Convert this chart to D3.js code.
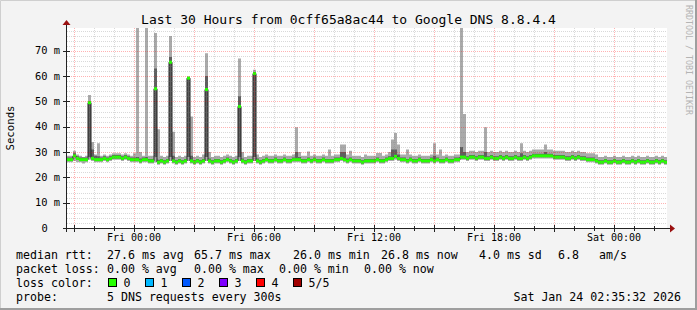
<!DOCTYPE html>
<html>
<head>
<meta charset="utf-8">
<script src="https://cdn.jsdelivr.net/npm/d3@7"></script>
<style>
  body { margin: 0; background: #f3f3f3; }
  svg { display: block; }
  text { font-family: "DejaVu Sans Mono", monospace; fill: #000; white-space: pre; }
</style>
</head>
<body>
<svg id="chart" width="697" height="310"></svg>
<script>
// 200 bins of 9 minutes each, starting Thu 20:39 (UTC)
const startTime = Date.UTC(2026, 0, 22, 20, 39);
const binMinutes = 9;

// median rtt per bin (ms)
const med = [
  27,27,28.5,27.5,27,27,27,49.5,27.5,27,
  27,27,27.5,27,27.5,28,28,28,27.5,28,
  27.5,27,27,27,26.5,27,27,26.5,26.5,55,
  26,26.5,26,26.5,65.5,26.5,26,26.5,26,26.5,
  59.2,26.5,26,26.5,26,26.5,54.7,26.5,26,26.5,
  26.5,26,26.5,27,26.5,26,26.5,48,26.5,26,
  26.5,26.5,61,26.5,26,26.5,27,26.5,26.5,27,
  26.5,26.5,27,26.5,26.5,27,27,27,26.5,26.5,
  27,26.5,27,26.5,26.5,27,26.5,26.5,26.5,27,
  27,27.5,27,26.5,27,26.5,26.5,26.5,26,26.5,
  26.5,26.5,26.5,27,26.5,26.5,27,27.5,27.5,28.3,
  27.5,27,27,26.5,27,26.5,26.5,27,26.5,26.5,
  26.5,27,26.5,27,26.5,26.5,27,26.5,26.5,27,
  27,28,28,27.5,28,28,27.5,28,28,27.5,
  27.5,28,27.5,27.5,28,27.5,28,27.5,27.5,28,
  27.5,27.5,28,27.5,28,28.5,28.5,28.5,28.5,28.5,
  28.5,28.5,28,28,28,28,27.5,27.5,28,27.5,
  28,27.5,27.5,27,27,27,26.5,26,26,26.5,
  26,26,26.5,26,26,26.5,26,26,26.5,26,
  26.5,26,26,26.5,26,26,26.5,26,26.5,26
];
// lowest ping per bin
const lo = [
  26,26,26.5,26,26,25.5,26,27,26.5,26,
  26,26,26.5,26,26.5,27,27,27,26.5,27,
  26.5,26,26,26,25.5,26,26,25.5,25.5,26,
  25,25.5,25,25.5,26.5,25.5,25,25.5,25,25.5,
  26.5,25.5,25,25.5,25,25.5,26.5,25.5,25,25.5,
  25.5,25,25.5,26,25.5,25,25.5,26.5,25.5,25,
  25.5,25.5,26.5,25.5,25,25.5,26,25.5,25.5,26,
  25.5,25.5,26,25.5,25.5,26,26,26,25.5,25.5,
  26,25.5,26,25.5,25.5,26,25.5,25.5,25.5,26,
  26,26.5,26,25.5,26,25.5,25.5,25.5,25,25.5,
  25.5,25.5,25.5,26,25.5,25.5,26,26.5,26.5,27,
  26.5,26,26,25.5,26,25.5,25.5,26,25.5,25.5,
  25.5,26,25.5,26,25.5,25.5,26,25.5,25.5,26,
  26,27,27,26.5,27,27,26.5,27,27,26.5,
  26.5,27,26.5,26.5,27,26.5,27,26.5,26.5,27,
  26.5,26.5,27,26.5,27,27.5,27.5,27.5,27.5,27.5,
  27.5,27.5,27,27,27,27,26.5,26.5,27,26.5,
  27,26.5,26.5,26,26,26,25.5,25,25,25.5,
  25,25,25.5,25,25,25.5,25,25,25.5,25,
  25.5,25,25,25.5,25,25,25.5,25,25.5,25
];
// second ping per bin (dark smoke lower edge)
const iLo = [
  26.5,26.5,28,27,26.5,26.5,26.5,28,27,26.5,
  26.5,26.5,27,26.5,27,27.5,27.5,27.5,27,27.5,
  27,26.5,26.5,26.5,26,26.5,26.5,26,26,28,
  25.5,26,25.5,26,28,26,25.5,26,25.5,26,
  28,26,25.5,26,25.5,26,28,26,25.5,26,
  26,25.5,26,26.5,26,25.5,26,28,26,25.5,
  26,26,28,26,25.5,26,26.5,26,26,26.5,
  26,26,26.5,26,26,26.5,26.5,26.5,26,26,
  26.5,26,26.5,26,26,26.5,26,26,26,26.5,
  26.5,27,26.5,26,26.5,26,26,26,25.5,26,
  26,26,26,26.5,26,26,26.5,27,27,27.8,
  27,26.5,26.5,26,26.5,26,26,26.5,26,26,
  26,26.5,26,26.5,26,26,26.5,26,26,26.5,
  26.5,27.5,27.5,27,27.5,27.5,27,27.5,27.5,27,
  27,27.5,27,27,27.5,27,27.5,27,27,27.5,
  27,27,27.5,27,27.5,28,28,28,28,28,
  28,28,27.5,27.5,27.5,27.5,27,27,27.5,27,
  27.5,27,27,26.5,26.5,26.5,26,25.5,25.5,26,
  25.5,25.5,26,25.5,25.5,26,25.5,25.5,26,25.5,
  26,25.5,25.5,26,25.5,25.5,26,25.5,26,25.5
];
// fourth ping per bin (dark smoke upper edge)
const iHi = [
  27.8,27.8,29.5,28.3,27.8,27.8,27.8,50,31,28.5,
  28.3,27.8,28.3,27.8,28.3,28.8,28.8,28.8,28.3,28.8,
  28.3,27.8,27.8,28,27.5,27.8,28,27.3,27.3,63,
  27,27.3,26.8,27.3,67.5,28.5,26.8,27.3,26.8,27.3,
  59.5,28.5,26.8,27.3,26.8,27.3,60,27.5,26.8,27.3,
  27.3,26.8,27.3,27.8,27.3,26.8,27.3,52,27.5,26.8,
  27.3,27.3,61.5,27.5,26.8,27.3,27.8,27.3,27.3,27.8,
  27.3,27.3,27.8,27.3,27.3,27.8,30,28,27.3,27.3,
  27.8,27.3,27.8,27.3,27.3,27.8,27.3,27.3,27.3,27.8,
  27.8,30,30,27.5,27.8,27.3,27.3,27.3,26.8,27.3,
  27.3,27.3,27.3,27.8,27.3,27.3,27.8,28.3,31,31,
  29,27.8,27.8,27.3,27.8,27.3,27.3,27.8,27.3,27.3,
  27.3,27.8,28.5,27.8,27.3,27.3,27.8,27.3,27.3,27.8,
  27.8,32,30,28.3,28.8,28.8,28.3,28.8,28.8,30,
  28.3,28.8,28.3,28.3,28.8,28.3,28.8,28.3,28.3,28.8,
  28.3,29.5,28.8,28.3,28.8,29.3,29.3,29.3,29.3,30,
  29.3,29.3,28.8,28.8,28.8,28.8,28.3,28.3,28.8,28.3,
  28.8,28.3,28.3,27.8,27.8,27.8,27.3,26.8,26.8,27.3,
  26.8,26.8,27.3,26.8,26.8,27.3,26.8,26.8,27.3,26.8,
  27.3,26.8,26.8,27.3,26.8,26.8,27.3,26.8,27.3,26.8
];
// highest ping per bin
const hi = [
  28.5,28.5,30.5,29,28.5,28,28.5,52.5,34,29,
  33.5,28.5,29,28.5,29,29.5,29.5,29.5,29,29.5,
  29,28.5,29.5,85,30,28.5,85,28.5,28.5,77,
  39,28.5,28,28.5,75.8,38,28,28.5,28,28.5,
  59.8,44,28,28.5,28,29,69,30,28,28.5,
  28.5,28,28.5,29,28.5,28,28.5,67,30,28,
  28.5,28.5,62.5,29,28,28.5,29,28.5,28.5,29,
  28.5,28.5,29,28.5,28.5,29,39.8,30,28.5,28.5,
  30.2,28.5,29,28.5,28.5,29,28.5,31,28.5,29,
  29,33,33,29,30.5,28.5,28.5,28.5,28,29,
  28.5,28.5,28.5,29.6,29.6,28.5,29,30,35,37.5,
  33,29,29,31,29,28.5,28.5,29,28.5,28.5,
  28.5,29,33.5,29,31,28.5,29,28.5,28.5,29,
  29,85,45,30,30.5,30.5,30,30.5,30.5,39.8,
  30,30.5,30,30,30.5,30,30.5,30,30,30.5,
  30,33.5,30.5,30,30.5,31,31,31,31,33,
  31,31,30.5,30.5,30.5,30.5,30,30,30.5,30,
  30.5,30,30,29.5,29.5,29.5,29,28,28,28.5,
  28,28,28.5,28,28,28.5,28,28,28.5,28,
  28.5,28,28,28.5,28,28,28.5,28,28.5,28
];

const yTicks = [0, 10, 20, 30, 40, 50, 60, 70];
const lossColors = [
  ["0", "#26ff00"], ["1", "#00b8ff"], ["2", "#0059ff"],
  ["3", "#7e00ff"], ["4", "#ff0000"], ["5/5", "#a00000"]
];
const rttStats = [["median rtt:", 16], ["27.6 ms avg", 107], ["65.7 ms max", 194], ["26.0 ms min", 293],
  ["26.8 ms now", 381], ["4.0 ms sd", 479], ["6.8", 558], ["am/s", 599]];
const lossStats = [["packet loss:", 16], ["0.00 % avg", 107], ["0.00 % max", 194],
  ["0.00 % min", 279], ["0.00 % now", 364]];
const lossBoxX = [108, 145, 182, 219, 256, 293];
const title = "Last 30 Hours from 0cff65a8ac44 to Google DNS 8.8.4.4";

const W = 697, H = 310;
const plot = { left: 67, right: 667, top: 28, bottom: 228 };

const svg = d3.select('#chart');

// canvas and frame
svg.append('rect').attr('width', W).attr('height', H).attr('fill', '#f3f3f3');
svg.append('path').attr('d', `M0.5,${H}V0.5H${W}`).attr('stroke', '#cfcfcf').attr('fill', 'none');
svg.append('path').attr('d', `M0,${H - 1}H${W - 1}V0`).attr('stroke', '#9e9e9e').attr('stroke-width', 2).attr('fill', 'none');

const times = d3.range(med.length + 1).map((i) => new Date(startTime + i * binMinutes * 60000));
const x = d3.scaleTime().domain([times[0], times[times.length - 1]]).range([plot.left, plot.right]);
const y = d3.scaleLinear().domain([0, 79]).range([plot.bottom, plot.top]);

svg.append('rect')
  .attr('x', plot.left).attr('y', plot.top)
  .attr('width', plot.right - plot.left).attr('height', plot.bottom - plot.top)
  .attr('fill', '#fff');

svg.append('clipPath').attr('id', 'clip')
  .append('rect')
  .attr('x', plot.left).attr('y', plot.top)
  .attr('width', plot.right - plot.left).attr('height', plot.bottom - plot.top);

const g = svg.append('g').attr('clip-path', 'url(#clip)');

// repeat last value so the step reaches the right edge
const ext = (arr) => arr.concat([arr[arr.length - 1]]);
const idx = d3.range(med.length + 1);

const smoke = (a, b) => d3.area()
  .curve(d3.curveStepAfter)
  .x((i) => x(times[i]))
  .y0((i) => y(a[i]))
  .y1((i) => y(b[i]));

g.append('path').attr('d', smoke(ext(lo), ext(hi))(idx)).attr('fill', '#aaaaaa');
g.append('path').attr('d', smoke(ext(iLo), ext(iHi))(idx)).attr('fill', '#5f5f5f');

const medExt = ext(med);
const medLine = d3.line()
  .curve(d3.curveStepAfter)
  .x((i) => x(times[i]))
  .y((i) => y(medExt[i]));
g.append('path').attr('d', medLine(idx)).attr('fill', 'none').attr('stroke', '#202020').attr('stroke-width', 1);

// loss colored median bands (no loss -> green)
g.selectAll('.medband')
  .data(med)
  .join('rect')
  .attr('class', 'medband')
  .attr('x', (d, i) => x(times[i]))
  .attr('width', (d, i) => x(times[i + 1]) - x(times[i]))
  .attr('y', (d) => y(d) - 1.5)
  .attr('height', 3)
  .attr('fill', lossColors[0][1]);

// grid on top
const grid = svg.append('g');
const hourTicks = d3.utcHour.every(1).range(times[0], times[times.length - 1]);
hourTicks.forEach((t) => {
  const major = t.getUTCHours() % 3 === 0;
  const xp = Math.round(x(t)) + 0.5;
  grid.append('line')
    .attr('x1', xp).attr('x2', xp).attr('y1', plot.top).attr('y2', plot.bottom)
    .attr('stroke', major ? 'rgba(255,0,0,0.3)' : 'rgba(128,128,128,0.3)')
    .attr('stroke-dasharray', '1,1');
});
d3.range(2, 79, 2).forEach((v) => {
  const major = v % 10 === 0;
  const yp = Math.round(y(v)) + 0.5;
  grid.append('line')
    .attr('x1', plot.left).attr('x2', plot.right).attr('y1', yp).attr('y2', yp)
    .attr('stroke', major ? 'rgba(255,0,0,0.3)' : 'rgba(128,128,128,0.3)')
    .attr('stroke-dasharray', '1,1');
});

// axes
const axis = svg.append('g');
axis.append('line').attr('x1', 63).attr('x2', 671).attr('y1', 228.5).attr('y2', 228.5).attr('stroke', '#222');
axis.append('line').attr('x1', 66.5).attr('x2', 66.5).attr('y1', 232).attr('y2', 24).attr('stroke', '#222');
axis.append('path').attr('d', 'M670,224.5L675,228.5L670,232.5Z').attr('fill', '#9a1010');
axis.append('path').attr('d', 'M62.5,25L66.5,20L70.5,25Z').attr('fill', '#9a1010');
yTicks.forEach((v) => {
  const yp = Math.round(y(v)) + 0.5;
  axis.append('line').attr('x1', 63).attr('x2', 70).attr('y1', yp).attr('y2', yp).attr('stroke', '#222');
});
hourTicks.forEach((t) => {
  const xp = Math.round(x(t)) + 0.5;
  const major = t.getUTCHours() % 3 === 0;
  axis.append('line').attr('x1', xp).attr('x2', xp).attr('y1', major ? 225 : 226).attr('y2', major ? 232 : 231).attr('stroke', '#222');
});

// y labels
yTicks.forEach((v) => {
  svg.append('text')
    .attr('x', v === 0 ? 47.8 : 60).attr('y', y(v) + 3.5)
    .attr('text-anchor', 'end').attr('font-size', '10.4px')
    .text(v === 0 ? '0' : `${v} m`);
});

// x labels every 6 hours
const fmt = d3.utcFormat('%a %H:%M');
d3.utcHour.every(6).range(times[0], times[times.length - 1]).forEach((t) => {
  svg.append('text')
    .attr('x', x(t)).attr('y', 241)
    .attr('text-anchor', 'middle').attr('font-size', '10px')
    .text(fmt(t));
});

svg.append('text')
  .attr('transform', 'translate(14,128) rotate(-90)')
  .attr('text-anchor', 'middle').attr('font-size', '10.7px')
  .text('Seconds');

svg.append('text')
  .attr('x', 348.5).attr('y', 23.5)
  .attr('text-anchor', 'middle').attr('font-size', '13px')
  .text(title);

svg.append('text')
  .attr('transform', 'translate(686,5) rotate(90)')
  .attr('font-size', '8.3px').style('fill', '#b4b4b4')
  .text('RRDTOOL / TOBI OETIKER');

// legend
const legend = svg.append('g').attr('font-size', '11.6px');
rttStats.forEach(([s, xp]) => legend.append('text').attr('x', xp).attr('y', 258.5).text(s));
lossStats.forEach(([s, xp]) => legend.append('text').attr('x', xp).attr('y', 272.5).text(s));
legend.append('text').attr('x', 16).attr('y', 286.5).text('loss color:');
lossColors.forEach(([label, color], i) => {
  legend.append('rect')
    .attr('x', lossBoxX[i] + 0.5).attr('y', 278.5).attr('width', 8).attr('height', 8)
    .attr('fill', color).attr('stroke', '#000');
  legend.append('text').attr('x', lossBoxX[i] + 15.5).attr('y', 286.5).text(label);
});
legend.append('text').attr('x', 16).attr('y', 300.5).text('probe:');
legend.append('text').attr('x', 107).attr('y', 300.5).text('5 DNS requests every 300s');
legend.append('text').attr('x', 681).attr('y', 300.5).attr('text-anchor', 'end').text('Sat Jan 24 02:35:32 2026');
</script>
</body>
</html>
